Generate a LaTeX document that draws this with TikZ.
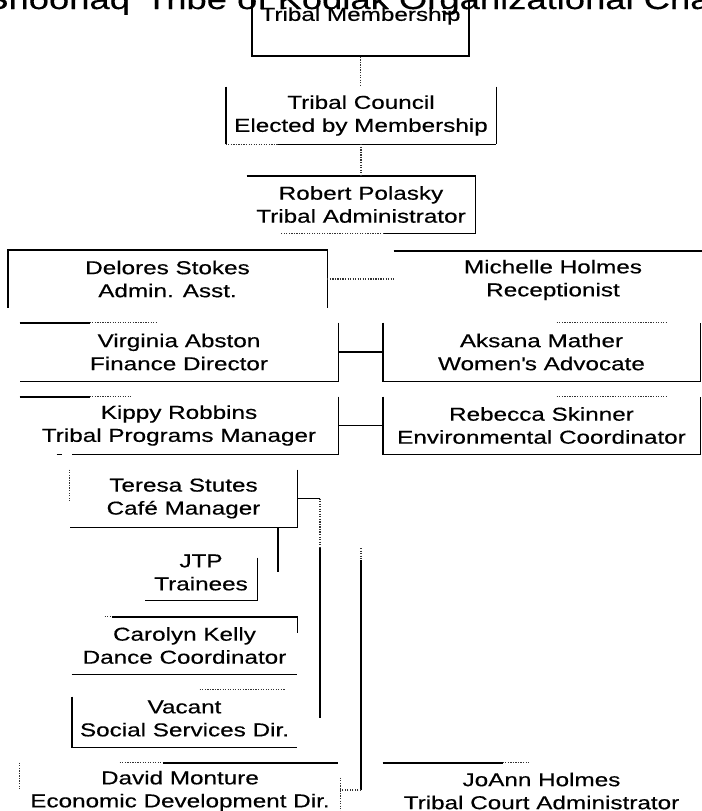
\documentclass[tikz,border=0pt]{standalone}
\usepackage{fontspec}
\setmainfont{Liberation Sans}[FakeStretch=1.3,FakeBold=0.4]
\usetikzlibrary{calc}
\tikzset{
  box/.style 2 args={draw=none, inner sep=0pt, align=center,
    minimum width=#1*0.75pt, minimum height=#2*0.75pt,
    font=\fontsize{14}{17.25}\selectfont},
  edge/.style={line width=1.15pt, draw=black},
  dotline/.style={line width=0.9pt, draw=black!80, densely dotted},
  titletext/.style={inner sep=0pt, font=\fontsize{21}{25}\selectfont}
}
\begin{document}
\begin{tikzpicture}[x=0.75pt,y=-0.75pt]
\fill[white] (0,0) rectangle (701,811);
\useasboundingbox (0,0) rectangle (701,811);

% title (cropped at the top edge)
\node[titletext, anchor=base west] (title) at (-16,9) {Shoonaq\textquotesingle\ Tribe of Kodiak Organizational Chart};

% boxes
\node[box={217}{80}, edge, draw] (memb) at (360.5,16) {Tribal Membership};
\node[box={270}{57}] (council) at (361,115.5) {Tribal Council\\Elected by Membership};
\node[box={228}{57}] (polasky) at (361,204.5) {Robert Polasky\\Tribal Administrator};
\node[box={319}{57}] (delores) at (167.5,279) {Delores Stokes\\Admin. Asst.};
\node[box={318}{57}] (michelle) at (553,280) {Michelle Holmes\\Receptionist};
\node[box={318}{58}] (virginia) at (179,352) {Virginia Abston\\Finance Director};
\node[box={317}{58}] (aksana) at (541.5,352) {Aksana Mather\\Women\textquotesingle s Advocate};
\node[box={318}{57}] (kippy) at (179,425.5) {Kippy Robbins\\Tribal Programs Manager};
\node[box={317}{57}] (rebecca) at (541.5,425.5) {Rebecca Skinner\\Environmental Coordinator};
\node[box={227}{57}] (teresa) at (183.5,498.5) {Teresa Stutes\\Café Manager};
\node[box={112}{55}] (jtp) at (201,572.5) {JTP\\Trainees};
\node[box={225}{57}] (carolyn) at (184.5,645.5) {Carolyn Kelly\\Dance Coordinator};
\node[box={225}{57}] (vacant) at (184.5,718.5) {Vacant\\Social Services Dir.};
\node[box={320}{56}] (david) at (180,791) {David Monture\\Economic Development Dir.};
\node[box={317}{56}] (joann) at (541.5,791) {JoAnn Holmes\\Tribal Court Administrator};

% visible box edges
\draw[edge] (council.north west) -- (council.south west);
\draw[edge] (council.north east) -- (council.south east);
\draw[dotline] (council.south west) -- ($(council.south west)+(52,0)$);
\draw[edge] ($(council.south west)+(52,0)$) -- (council.south east);

\draw[edge] (polasky.north west) -- (polasky.north east) -- (polasky.south east) -- ($(polasky.south west)+(137,0)$);
\draw[dotline] ($(polasky.south west)+(137,0)$) -- ($(polasky.south west)+(34,0)$);

\draw[edge] (delores.south west) -- (delores.north west) -- (delores.north east) -- (delores.south east);
\draw[edge] (michelle.north west) -- (michelle.north east);

\draw[edge] (virginia.north west) -- ($(virginia.north west)+(70,0)$);
\draw[dotline] ($(virginia.north west)+(70,0)$) -- ($(virginia.north west)+(138,0)$);
\draw[edge] (virginia.north east) -- (virginia.south east) -- (virginia.south west);

\draw[edge] (aksana.north west) -- (aksana.south west) -- (aksana.south east) -- (aksana.north east);
\draw[dotline] ($(aksana.north west)+(174,0)$) -- ($(aksana.north west)+(285,0)$);

\draw[edge] (kippy.north west) -- ($(kippy.north west)+(70,0)$);
\draw[dotline] ($(kippy.north west)+(70,0)$) -- ($(kippy.north west)+(113,0)$);
\draw[edge] (kippy.north east) -- (kippy.south east) -- ($(kippy.south west)+(52,0)$);
\draw[edge] ($(kippy.south west)+(37,0)$) -- ($(kippy.south west)+(42,0)$);

\draw[edge] (rebecca.north west) -- (rebecca.south west) -- (rebecca.south east) -- (rebecca.north east);
\draw[dotline] ($(rebecca.north west)+(174,0)$) -- ($(rebecca.north west)+(285,0)$);

\draw[dotline] (teresa.north west) -- ($(teresa.north west)+(0,32)$);
\draw[edge] (teresa.north east) -- (teresa.south east) -- (teresa.south west);

\draw[edge] ($(jtp.north east)+(0,13)$) -- (jtp.south east) -- (jtp.south west);

\draw[dotline] ($(carolyn.north west)+(33,0)$) -- ($(carolyn.north west)+(40,0)$);
\draw[edge] ($(carolyn.north west)+(40,0)$) -- (carolyn.north east) -- ($(carolyn.north east)+(0,16)$);
\draw[edge] (carolyn.south west) -- (carolyn.south east);

\draw[dotline] ($(vacant.north west)+(128,0)$) -- ($(vacant.north west)+(213,0)$);
\draw[edge] ($(vacant.north west)+(0,7)$) -- (vacant.south west) -- (vacant.south east);

\draw[dotline] ($(david.north west)+(100,0)$) -- ($(david.north west)+(143,0)$);
\draw[edge] ($(david.north west)+(143,0)$) -- ($(david.north east)+(-2,0)$);
\draw[dotline] (david.north west) -- ($(david.north west)+(0,27)$);
\draw[dotline] ($(david.north east)+(0,15)$) -- (david.south east);

\draw[edge] (joann.north west) -- ($(joann.north west)+(120,0)$);
\draw[dotline] ($(joann.north west)+(120,0)$) -- ($(joann.north west)+(147,0)$);

% connectors
\draw[dotline] (memb.south) -- (memb.south |- council.north);
\draw[dotline] (council.south) -- (polasky.north);
\draw[dotline] (delores.east) -- (delores.east -| michelle.west);
\draw[edge] (virginia.east) -- (aksana.west);
\draw[edge] (kippy.east) -- (rebecca.west);

\coordinate (tj) at (320,498.5);
\coordinate (tj2) at (320,548);
\coordinate (tend) at (320,718);
\draw[edge] (teresa.east) -- (tj);
\draw[dotline] (tj) -- (tj2);
\draw[edge] (tj2) -- (tend);

\coordinate (jt) at (278,572);
\draw[edge] (jt |- teresa.south) -- (jt);

\coordinate (v1) at (361,548);
\coordinate (v2) at (361,560);
\coordinate (v3) at (361,790);
\draw[dotline] (v1) -- (v2);
\draw[edge] (v2) -- (v3);
\draw[dotline] (v3) -- (v3 -| david.east);
\end{tikzpicture}
\end{document}
